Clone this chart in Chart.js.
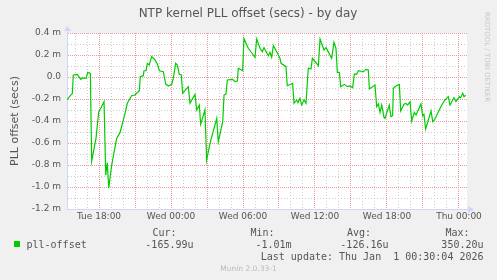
<!DOCTYPE html>
<html>
<head>
<meta charset="utf-8">
<script src="https://cdn.jsdelivr.net/npm/chart.js@4/dist/chart.umd.min.js"></script>
<style>
  html, body { margin: 0; padding: 0; background: #f0f0f0; }
  #wrap { width: 497px; height: 280px; }
</style>
</head>
<body>
<div id="wrap"><canvas id="chart" width="497" height="280"></canvas></div>
<script>
// time in hours relative to Wed 00:00, offset in milliseconds
const hours = [
  -8.67, -8.22, -8.14, -7.81, -7.53, -7.39, -7.08, -6.94, -6.72, -6.61,
  -6.25, -6.03, -5.58, -5.44, -5.31, -5.19, -4.94, -4.53, -4.25, -3.83,
  -3.64, -3.28, -3.00, -2.64, -2.56, -2.31, -2.25, -2.08, -1.97, -1.81,
  -1.61, -1.33, -1.14, -0.97, -0.64, -0.44, -0.22, 0.06, 0.19, 0.39,
  0.53, 0.69, 0.86, 0.97, 1.44, 1.58, 2.00, 2.14, 2.36, 2.47,
  2.83, 2.97, 3.25, 3.81, 3.94, 4.31, 4.42, 4.58, 4.69, 5.14,
  5.33, 5.53, 5.61, 5.97, 6.08, 6.44, 6.86, 7.00, 7.14, 7.42,
  7.61, 7.75, 8.11, 8.25, 8.39, 8.53, 8.81, 9.08, 9.17, 9.58,
  9.69, 10.14, 10.25, 10.47, 10.58, 10.75, 10.89, 11.08, 11.25, 11.44,
  11.67, 11.78, 12.28, 12.42, 12.75, 12.92, 13.39, 13.58, 13.75, 13.86,
  14.03, 14.14, 14.44, 14.72, 14.92, 15.14, 15.28, 15.47, 15.61, 16.03,
  16.25, 16.44, 16.53, 17.00, 17.14, 17.28, 17.42, 17.56, 17.75, 17.83,
  18.19, 18.33, 18.47, 18.53, 18.75, 19.03, 19.14, 19.42, 19.58, 19.72,
  19.92, 20.06, 20.28, 20.42, 20.83, 20.97, 21.08, 21.22, 21.67, 21.81,
  22.00, 22.56, 22.83, 22.97, 23.11, 23.25, 23.58, 23.75, 24.03, 24.14,
  24.31, 24.42, 24.56,
];
const offsetMs = [
  -0.206, -0.148, 0.018, 0.024, -0.021, -0.009, -0.012, 0.042, 0.033, -0.764,
  -0.558, -0.321, -0.224, -0.891, -0.779, -1.010, -0.800, -0.558, -0.506, -0.330,
  -0.239, -0.170, -0.164, -0.124, 0.003, 0.012, 0.057, 0.057, 0.124, 0.109,
  0.185, 0.155, 0.118, 0.057, 0.048, -0.064, -0.082, -0.067, -0.012, 0.124,
  0.109, 0.024, 0.018, -0.148, -0.088, -0.239, -0.158, -0.300, -0.255, -0.430,
  -0.300, -0.755, -0.603, -0.376, -0.588, -0.406, -0.164, -0.155, -0.027, -0.021,
  -0.042, -0.036, 0.079, 0.057, 0.350, 0.261, 0.200, 0.179, 0.345, 0.261,
  0.230, 0.267, 0.194, 0.224, 0.179, 0.285, 0.230, 0.170, 0.124, 0.094,
  -0.079, -0.058, -0.239, -0.209, -0.233, -0.194, -0.255, -0.209, -0.240, 0.079,
  0.075, 0.170, 0.103, 0.345, 0.245, 0.267, 0.170, 0.315, 0.261, 0.042,
  0.042, -0.088, -0.067, -0.088, -0.082, -0.097, 0.027, 0.024, 0.057, 0.048,
  0.070, 0.064, -0.109, -0.073, -0.270, -0.245, -0.321, -0.255, -0.367, -0.376,
  -0.255, -0.361, -0.350, -0.103, -0.082, -0.067, -0.309, -0.248, -0.240, -0.255,
  -0.224, -0.400, -0.321, -0.345, -0.245, -0.352, -0.340, -0.473, -0.309, -0.406,
  -0.382, -0.255, -0.209, -0.194, -0.179, -0.255, -0.188, -0.224, -0.179, -0.188,
  -0.148, -0.179, -0.166,
];

const xTickHours = [-6, 0, 6, 12, 18, 24];
const xTickLabels = ["Tue 18:00", "Wed 00:00", "Wed 06:00", "Wed 12:00", "Wed 18:00", "Thu 00:00"];
const legendHeaders = ["Cur:", "Min:", "Avg:", "Max:"];
const legendValues = ["-165.99u", "-1.01m", "-126.16u", "350.20u"];
const seriesName = "pll-offset";
const lastUpdate = "Last update: Thu Jan  1 00:30:04 2026";

const lineColor = "#00cc00";
const axisColor = "#cfd6f8";
const majorGrid = "rgb(234, 155, 155)";
const minorGrid = "rgb(205, 205, 205)";
const textColor = "#555";

// Helpers
const getById = (id) => document.getElementById(id);
const isMajorX = (c) => c.tick && Math.round(c.tick.value) % 3 === 0;
const isMajorY = (c) => c.tick && Math.round(c.tick.value * 10) % 2 === 0;

function drawText(ctx, text, x, y, font, color, align) {
  ctx.font = font;
  ctx.fillStyle = color;
  ctx.textAlign = align || "left";
  ctx.textBaseline = "middle";
  ctx.fillText(text, x, y);
}

const muninDecor = {
  id: "muninDecor",
  beforeDraw(chart) {
    const { ctx, chartArea: a } = chart;
    ctx.save();
    ctx.fillStyle = "#f0f0f0";
    ctx.fillRect(0, 0, chart.width, chart.height);
    ctx.fillStyle = "#fff";
    ctx.fillRect(a.left, a.top, a.right - a.left, a.bottom - a.top);
    ctx.restore();
  },
  afterDraw(chart) {
    const { ctx, chartArea: a } = chart;
    ctx.save();

    // axis extensions and arrows
    ctx.strokeStyle = axisColor;
    ctx.fillStyle = axisColor;
    ctx.lineWidth = 1;
    ctx.beginPath();
    ctx.moveTo(a.left + 0.5, a.top);
    ctx.lineTo(a.left + 0.5, a.top - 3);
    ctx.moveTo(a.right, a.bottom + 0.5);
    ctx.lineTo(a.right + 2, a.bottom + 0.5);
    ctx.stroke();
    ctx.beginPath();
    ctx.moveTo(a.left - 3, a.top - 2);
    ctx.lineTo(a.left + 4, a.top - 2);
    ctx.lineTo(a.left + 0.5, a.top - 7);
    ctx.closePath();
    ctx.fill();
    ctx.beginPath();
    ctx.moveTo(a.right + 1, a.bottom - 3);
    ctx.lineTo(a.right + 1, a.bottom + 4);
    ctx.lineTo(a.right + 7, a.bottom + 0.5);
    ctx.closePath();
    ctx.fill();

    // title and axis title
    drawText(ctx, "NTP kernel PLL offset (secs) - by day", 248, 14, "12px 'DejaVu Sans'", textColor, "center");
    ctx.save();
    ctx.translate(15, 121);
    ctx.rotate(-Math.PI / 2);
    drawText(ctx, "PLL offset (secs)", 0, 0, "11px 'DejaVu Sans'", textColor, "center");
    ctx.restore();

    ctx.save();
    ctx.translate(487, 57);
    ctx.rotate(Math.PI / 2);
    drawText(ctx, "RRDTOOL / TOBI OETIKER", 0, 0, "7px 'DejaVu Sans'", "#c8c8c8", "center");
    ctx.restore();

    // legend
    const mono = "10px 'DejaVu Sans Mono'";
    ctx.fillStyle = lineColor;
    ctx.fillRect(14, 241, 6, 6);
    drawText(ctx, seriesName, 26.5, 245.5, mono, textColor);
    const headerRight = [176.5, 274.5, 371, 469.5];
    const valueRight = [193.5, 291.5, 388.5, 483.5];
    legendHeaders.forEach((h, i) => drawText(ctx, h, headerRight[i], 233.5, mono, textColor, "right"));
    legendValues.forEach((v, i) => drawText(ctx, v, valueRight[i], 245.5, mono, textColor, "right"));
    drawText(ctx, lastUpdate, 483.5, 257.5, mono, textColor, "right");
    drawText(ctx, "Munin 2.0.33-1", 248.5, 269.5, "7.5px 'DejaVu Sans'", "#bbb", "center");

    ctx.restore();
  }
};

const data = {
  datasets: [{
    label: seriesName,
    data: hours.map((h, i) => ({ x: h, y: offsetMs[i] })),
    borderColor: lineColor,
    borderWidth: 1.2,
    pointRadius: 0,
    tension: 0,
    fill: false,
  }]
};

new Chart(getById("chart").getContext("2d"), {
  type: "line",
  data,
  plugins: [muninDecor],
  options: {
    responsive: false,
    animation: false,
    events: [],
    layout: { padding: { top: 33, right: 30, left: 0, bottom: 0 } },
    plugins: {
      legend: { display: false },
      title: { display: false },
      tooltip: { enabled: false },
    },
    scales: {
      x: {
        type: "linear",
        min: -8.667,
        max: 24.667,
        afterBuildTicks: (s) => {
          s.ticks = [];
          for (let h = -8; h <= 24; h++) s.ticks.push({ value: h });
        },
        afterFit: (s) => { s.height = 71; },
        ticks: {
          autoSkip: false,
          maxRotation: 0,
          padding: 2,
          color: textColor,
          font: { family: "DejaVu Sans", size: 9 },
          callback: (v) => {
            const i = xTickHours.indexOf(v);
            return i >= 0 ? xTickLabels[i] : "";
          },
        },
        grid: {
          drawTicks: false,
          color: (c) => (isMajorX(c) ? majorGrid : minorGrid),
        },
        border: {
          color: axisColor,
          dash: (c) => (isMajorX(c) ? [1, 1] : [1, 2]),
        },
      },
      y: {
        min: -1.2,
        max: 0.4,
        afterBuildTicks: (s) => {
          s.ticks = [];
          for (let k = -12; k <= 4; k++) s.ticks.push({ value: k / 10 });
        },
        afterFit: (s) => { s.width = 67; },
        ticks: {
          autoSkip: false,
          padding: 6,
          color: textColor,
          font: { family: "DejaVu Sans", size: 9 },
          callback: (v) => {
            const k = Math.round(v * 10);
            if (k % 2 !== 0) return "";
            if (k === 0) return "0.0";
            return (k / 10).toFixed(1) + " m";
          },
        },
        grid: {
          drawTicks: false,
          color: (c) => (isMajorY(c) ? majorGrid : minorGrid),
        },
        border: {
          color: axisColor,
          dash: (c) => (isMajorY(c) ? [1, 1] : [1, 2]),
        },
      },
    },
  },
});
</script>
</body>
</html>
